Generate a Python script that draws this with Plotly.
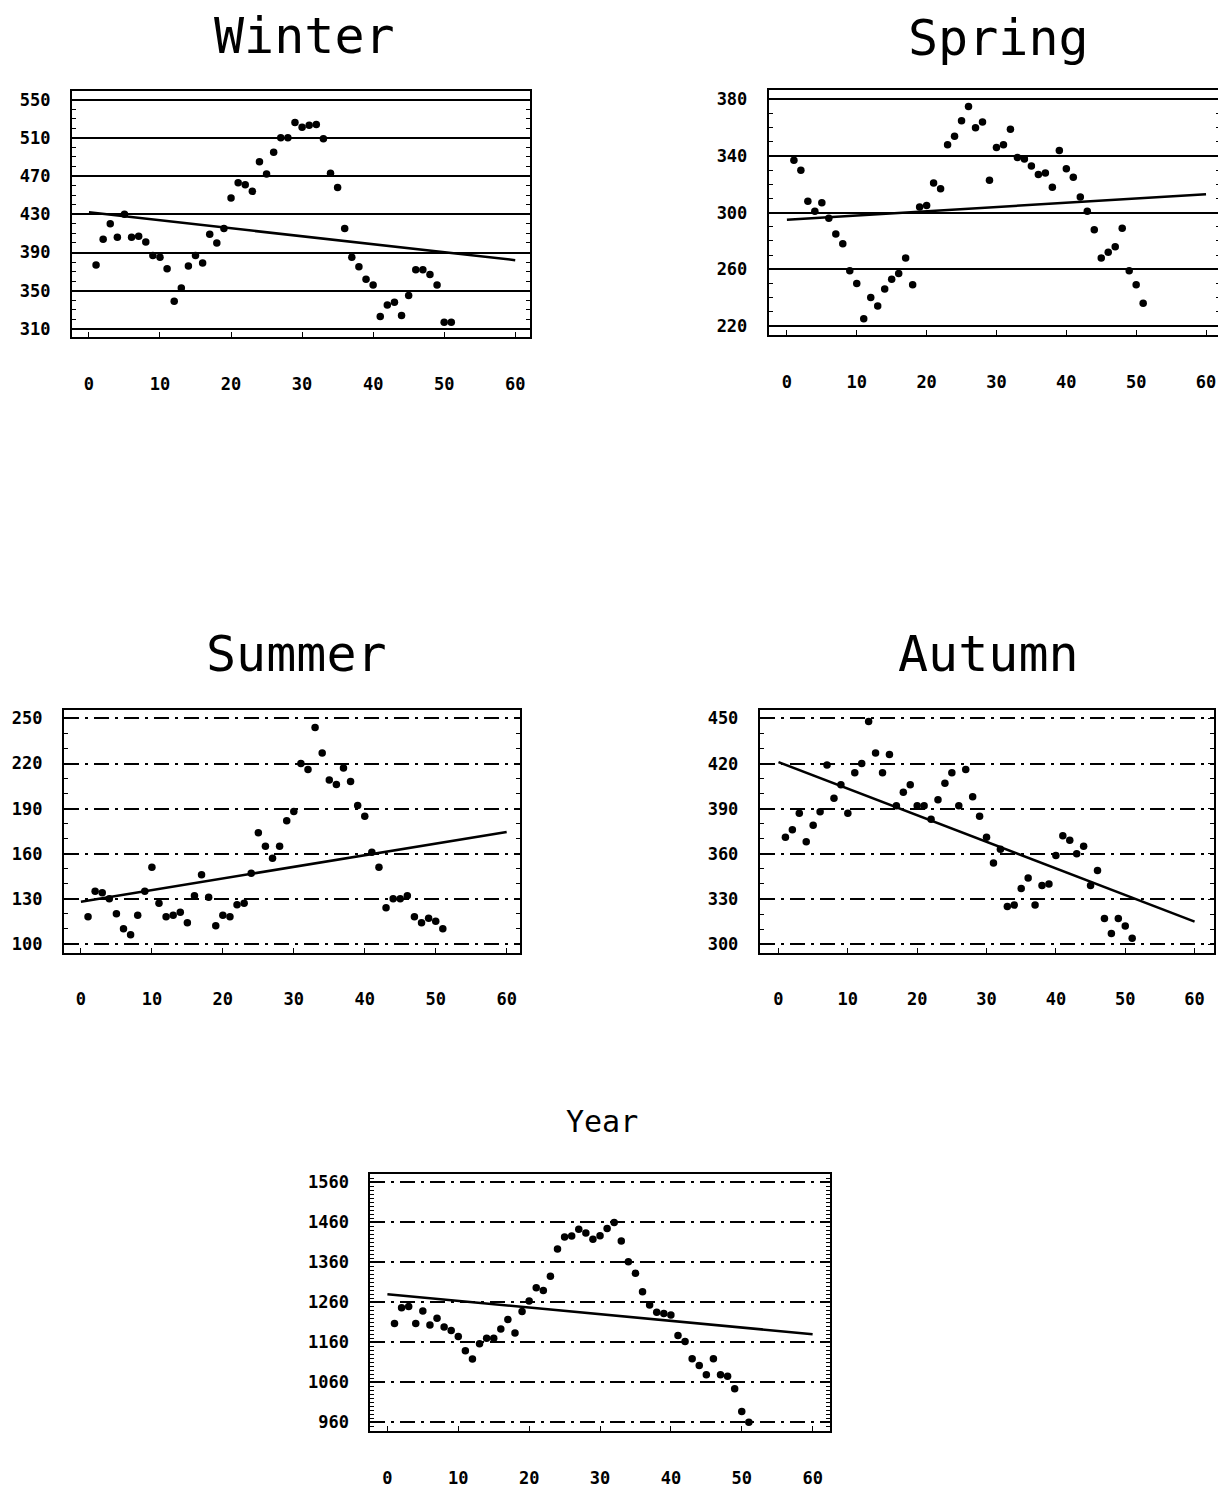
import plotly.graph_objects as go

# ---------------- data ----------------
years = list(range(1, 52))

winter = [377, 404, 420, 406, 430, 406, 407, 401, 387, 385,
          373, 339, 353, 376, 387, 379, 409, 400, 415, 447,
          463, 461, 454, 485, 472, 495, 510, 510, 526, 521,
          523, 524, 509, 473, 458, 415, 385, 375, 362, 356,
          323, 335, 338, 324, 345, 372, 372, 367, 356, 317, 317]

spring = [337, 330, 308, 301, 307, 296, 285, 278, 259, 250,
          225, 240, 234, 246, 253, 257, 268, 249, 304, 305,
          321, 317, 348, 354, 365, 375, 360, 364, 323, 346,
          348, 359, 339, 338, 333, 327, 328, 318, 344, 331,
          325, 311, 301, 288, 268, 272, 276, 289, 259, 249, 236]

summer = [118, 135, 134, 130, 120, 110, 106, 119, 135, 151,
          127, 118, 119, 121, 114, 132, 146, 131, 112, 119,
          118, 126, 127, 147, 174, 165, 157, 165, 182, 188,
          220, 216, 244, 227, 209, 206, 217, 208, 192, 185,
          161, 151, 124, 130, 130, 132, 118, 114, 117, 115, 110]

autumn = [371, 376, 387, 368, 379, 388, 419, 397, 406, 387,
          414, 420, 448, 427, 414, 426, 392, 401, 406, 392,
          392, 383, 396, 407, 414, 392, 416, 398, 385, 371,
          354, 363, 325, 326, 337, 344, 326, 339, 340, 359,
          372, 369, 360, 365, 339, 349, 317, 307, 317, 312, 304]

year = [1207, 1246, 1249, 1207, 1238, 1203, 1220, 1198, 1189, 1174,
        1139, 1118, 1156, 1170, 1170, 1193, 1217, 1183, 1237, 1263,
        1296, 1289, 1325, 1393, 1423, 1425, 1442, 1433, 1417, 1426,
        1444, 1459, 1413, 1361, 1332, 1286, 1253, 1235, 1232, 1228,
        1177, 1162, 1119, 1102, 1079, 1119, 1079, 1075, 1044, 987, 960]

trend_years = [0, 60]
winter_trend = [432, 382]
spring_trend = [295, 313]
summer_trend = [128, 174.5]
autumn_trend = [421, 315]
year_trend = [1280, 1180]

x_ticks = [0, 10, 20, 30, 40, 50, 60]
winter_yticks = [310, 350, 390, 430, 470, 510, 550]
spring_yticks = [220, 260, 300, 340, 380]
summer_yticks = [100, 130, 160, 190, 220, 250]
autumn_yticks = [300, 330, 360, 390, 420, 450]
year_yticks = [960, 1060, 1160, 1260, 1360, 1460, 1560]

titles = ["Winter", "Spring", "Summer", "Autumn", "Year"]

# ---------------- layout/styles ----------------
PAGE_W, PAGE_H = 1226, 1496
OFF = 8                      # default body margin of the html page
W, H = PAGE_W - OFF - 4, PAGE_H - 2 * OFF
FONT = "DejaVu Sans Mono"


def px(xp):
    return min(1.0, max(0.0, (xp - OFF) / W))


def py(yp):
    return min(1.0, max(0.0, 1 - (yp - OFF) / H))


panels = [
    dict(data=winter, trend=winter_trend, yt=winter_yticks, box=(72, 531, 89, 337),
         xr=(-2.4, 62.1), yr=(301.4, 559.4), dash="solid", title=(305, 34, 50)),
    dict(data=spring, trend=spring_trend, yt=spring_yticks, box=(770, 1222, 88, 335),
         xr=(-2.6, 62.0), yr=(213.4, 387), dash="solid", title=(1000, 36, 50)),
    dict(data=summer, trend=summer_trend, yt=summer_yticks, box=(64, 521, 712, 956),
         xr=(-2.4, 61.9), yr=(94, 255.5), dash="longdashdot", title=(297, 656, 50)),
    dict(data=autumn, trend=autumn_trend, yt=autumn_yticks, box=(761, 1216, 712, 956),
         xr=(-2.7, 62.8), yr=(294.2, 455.5), dash="longdashdot", title=(990, 656, 50)),
    dict(data=year, trend=year_trend, yt=year_yticks, box=(371, 831, 1178, 1437),
         xr=(-2.4, 62.4), yr=(937.6, 1580.9), dash="longdashdot", title=(603, 1126, 30)),
]

fig = go.Figure()
layout = {}
annotations = []
tickfont = dict(family=FONT, size=17, color="black", weight="bold")

for i, (p, t) in enumerate(zip(panels, titles), start=1):
    xa = "x" if i == 1 else f"x{i}"
    ya = "y" if i == 1 else f"y{i}"
    fig.add_trace(go.Scatter(x=years, y=p["data"], mode="markers",
                             marker=dict(color="black", size=7.5),
                             xaxis=xa, yaxis=ya, showlegend=False))
    fig.add_trace(go.Scatter(x=trend_years, y=p["trend"], mode="lines",
                             line=dict(color="black", width=2.5),
                             xaxis=xa, yaxis=ya, showlegend=False))
    x0, x1, y0, y1 = p["box"]
    xkey = "xaxis" if i == 1 else f"xaxis{i}"
    ykey = "yaxis" if i == 1 else f"yaxis{i}"
    layout[xkey] = dict(domain=[px(x0), px(x1)], range=list(p["xr"]), anchor=ya,
                        tickmode="array", tickvals=x_ticks, ticks="inside", ticklen=5,
                        tickcolor="black", showgrid=False, zeroline=False,
                        showline=True, linecolor="black", linewidth=2, mirror=True,
                        tickfont=tickfont, ticklabelstandoff=30)
    layout[ykey] = dict(domain=[py(y1), py(y0)], range=list(p["yr"]), anchor=xa,
                        tickmode="array", tickvals=p["yt"], ticks="inside", ticklen=6,
                        tickcolor="black",
                        minor=dict(tick0=0, dtick=10, ticks="inside", ticklen=4,
                                   tickcolor="black", showgrid=False),
                        showgrid=True, gridcolor="black", gridwidth=1.6,
                        griddash=p["dash"], zeroline=False,
                        showline=True, linecolor="black", linewidth=2, mirror="allticks",
                        tickfont=tickfont, ticklabelstandoff=16)
    tx, ty, ts = p["title"]
    annotations.append(dict(text=t, x=px(tx), y=py(ty), xref="paper", yref="paper",
                            xanchor="center", yanchor="middle", showarrow=False,
                            font=dict(family=FONT, size=ts, color="black")))

fig.update_layout(width=W, height=H, margin=dict(l=0, r=0, t=0, b=0),
                  paper_bgcolor="white", plot_bgcolor="white",
                  annotations=annotations, **layout)

fig.write_html("out.html")
